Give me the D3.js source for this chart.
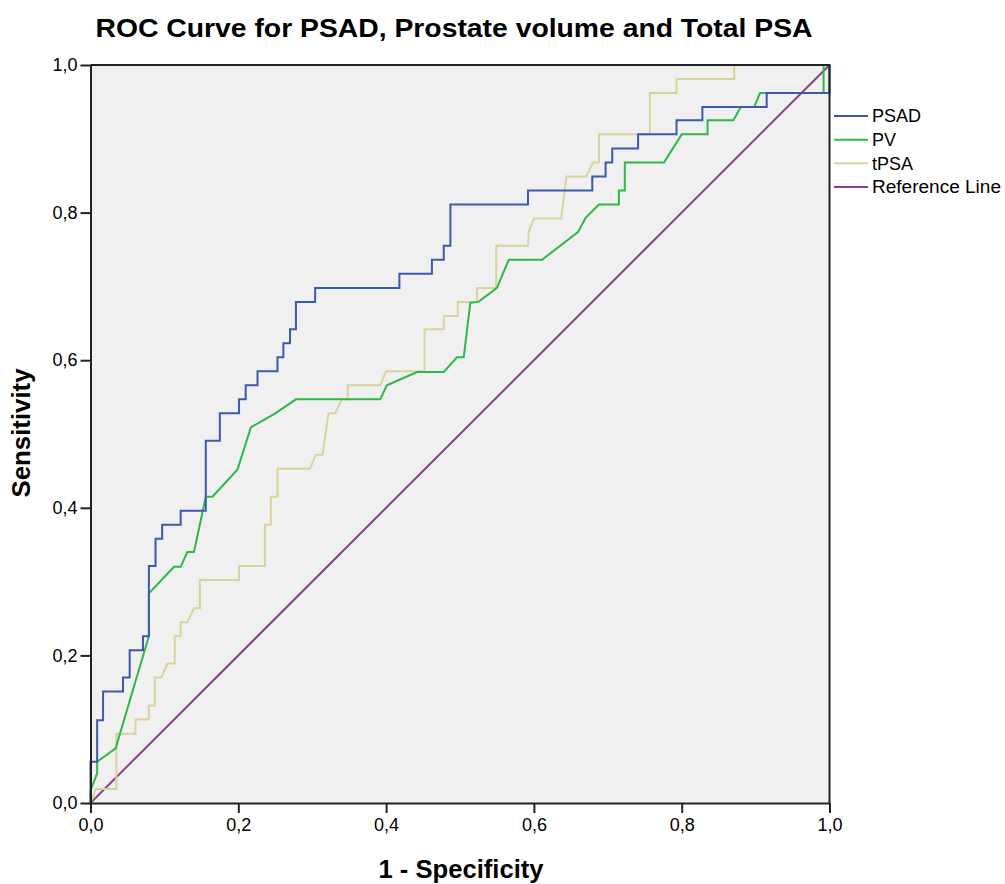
<!DOCTYPE html>
<html>
<head>
<meta charset="utf-8">
<script src="https://cdn.jsdelivr.net/npm/d3@7"></script>
<style>
  html, body { margin: 0; padding: 0; background: #ffffff; }
  svg { display: block; }
  text { font-family: "Liberation Sans", Arial, sans-serif; fill: #000; }
</style>
</head>
<body>
<svg id="chart" width="1005" height="884"></svg>
<script>
// ---- Data ----
const titleText = "ROC Curve for PSAD, Prostate volume and Total PSA";
const xTitle = "1 - Specificity";
const yTitle = "Sensitivity";
const tickValues = [0, 0.2, 0.4, 0.6, 0.8, 1.0];
const tickLabels = ["0,0", "0,2", "0,4", "0,6", "0,8", "1,0"];
const seriesNames = ["PSAD", "PV", "tPSA", "Reference Line"];
const seriesColors = ["#3e58ac", "#2eb848", "#d8d39c", "#8a3c8c"];

const psadX = [0,0,0.009,0.009,0.017,0.017,0.044,0.044,0.053,0.053,0.071,0.071,0.079,0.079,0.088,0.088,0.097,0.097,0.122,0.122,0.156,0.156,0.175,0.175,0.201,0.201,0.210,0.210,0.226,0.226,0.253,0.253,0.261,0.261,0.270,0.270,0.278,0.278,0.304,0.304,0.418,0.418,0.462,0.462,0.478,0.478,0.487,0.487,0.592,0.592,0.679,0.679,0.697,0.697,0.706,0.706,0.741,0.741,0.793,0.793,0.828,0.828,0.915,0.915,1,1];
const psadY = [0,0.056,0.056,0.112,0.112,0.151,0.151,0.170,0.170,0.207,0.207,0.226,0.226,0.321,0.321,0.358,0.358,0.377,0.377,0.396,0.396,0.491,0.491,0.528,0.528,0.547,0.547,0.566,0.566,0.585,0.585,0.604,0.604,0.623,0.623,0.642,0.642,0.679,0.679,0.698,0.698,0.717,0.717,0.736,0.736,0.755,0.755,0.811,0.811,0.830,0.830,0.849,0.849,0.868,0.868,0.887,0.887,0.906,0.906,0.925,0.925,0.943,0.943,0.962,0.962,1];

const pvX = [0,0,0.009,0.009,0.034,0.079,0.079,0.113,0.122,0.131,0.140,0.156,0.165,0.199,0.217,0.250,0.278,0.392,0.401,0.442,0.478,0.496,0.505,0.514,0.525,0.550,0.566,0.611,0.660,0.670,0.688,0.715,0.715,0.723,0.723,0.776,0.800,0.835,0.835,0.870,0.880,0.898,0.906,0.992,0.992,1];
const pvY = [0,0.017,0.040,0.056,0.074,0.226,0.284,0.320,0.320,0.340,0.340,0.415,0.415,0.452,0.509,0.528,0.547,0.547,0.566,0.584,0.584,0.604,0.604,0.678,0.679,0.698,0.736,0.736,0.774,0.793,0.811,0.811,0.830,0.830,0.868,0.868,0.906,0.906,0.925,0.925,0.943,0.943,0.962,0.962,1,1];

const tpsaX = [0,0.007,0.035,0.035,0.061,0.061,0.079,0.079,0.087,0.087,0.096,0.104,0.114,0.114,0.122,0.122,0.131,0.140,0.148,0.148,0.201,0.201,0.236,0.236,0.244,0.244,0.253,0.253,0.297,0.305,0.314,0.322,0.331,0.340,0.348,0.348,0.392,0.400,0.452,0.452,0.478,0.478,0.497,0.497,0.523,0.523,0.549,0.549,0.592,0.593,0.600,0.637,0.644,0.671,0.680,0.688,0.688,0.757,0.757,0.793,0.793,0.871,0.871,1];
const tpsaY = [0,0.019,0.019,0.094,0.094,0.113,0.113,0.132,0.132,0.170,0.170,0.189,0.189,0.226,0.226,0.245,0.245,0.264,0.264,0.302,0.302,0.321,0.321,0.377,0.377,0.415,0.415,0.453,0.453,0.472,0.472,0.528,0.528,0.547,0.547,0.566,0.566,0.585,0.585,0.642,0.642,0.660,0.660,0.679,0.679,0.698,0.698,0.755,0.755,0.774,0.792,0.792,0.849,0.849,0.868,0.868,0.906,0.906,0.962,0.962,0.981,0.981,1,1];

const refX = [0, 1];
const refY = [0, 1];

// ---- Drawing ----
const svg = d3.select("#chart");
const pLeft = 90.5, pRight = 829.5, pTop = 65, pBottom = 803;
const x = d3.scaleLinear().domain([0, 1]).range([pLeft, pRight]);
const y = d3.scaleLinear().domain([0, 1]).range([pBottom, pTop]);

svg.append("rect").attr("width", 1005).attr("height", 884).attr("fill", "#ffffff");

// plot background
svg.append("rect")
  .attr("x", pLeft).attr("y", pTop)
  .attr("width", pRight - pLeft).attr("height", pBottom - pTop)
  .attr("fill", "#f0f0f0");

const line = d3.line().x(d => x(d[0])).y(d => y(d[1]));
const zip = (xs, ys) => xs.map((v, i) => [v, ys[i]]);
const series = [
  zip(psadX, psadY),
  zip(pvX, pvY),
  zip(tpsaX, tpsaY),
  zip(refX, refY)
];
// draw order: reference, tPSA, PV, PSAD
[3, 2, 1, 0].forEach(i => {
  svg.append("path")
    .datum(series[i])
    .attr("d", line)
    .attr("fill", "none")
    .attr("stroke", seriesColors[i])
    .attr("stroke-width", 2)
    .attr("stroke-linejoin", "miter");
});

// frame (top and right)
svg.append("path")
  .attr("d", `M${pLeft},${pTop}H${pRight}V${pBottom}`)
  .attr("fill", "none").attr("stroke", "#222").attr("stroke-width", 2);

// axes
const xAxis = d3.axisBottom(x).tickValues(tickValues)
  .tickFormat((d, i) => tickLabels[i]).tickSize(10).tickSizeOuter(0).tickPadding(5);
const yAxis = d3.axisLeft(y).tickValues(tickValues)
  .tickFormat((d, i) => tickLabels[i]).tickSize(10).tickSizeOuter(0).tickPadding(3);

const gx = svg.append("g").attr("transform", `translate(0,${pBottom})`).call(xAxis);
const gy = svg.append("g").attr("transform", `translate(${pLeft},0)`).call(yAxis);
[gx, gy].forEach(g => {
  g.select(".domain").attr("stroke", "#222").attr("stroke-width", 2);
  g.selectAll(".tick line").attr("stroke", "#222").attr("stroke-width", 2);
  g.selectAll(".tick text")
    .attr("font-family", "'Liberation Sans', Arial, sans-serif")
    .attr("font-size", 18).attr("fill", "#111");
});

// titles
svg.append("text")
  .attr("x", 454).attr("y", 37)
  .attr("text-anchor", "middle")
  .attr("font-size", 25).attr("font-weight", "bold")
  .attr("textLength", 717).attr("lengthAdjust", "spacingAndGlyphs")
  .text(titleText);

svg.append("text")
  .attr("x", 461).attr("y", 878)
  .attr("text-anchor", "middle")
  .attr("font-size", 25).attr("font-weight", "bold")
  .attr("textLength", 165).attr("lengthAdjust", "spacingAndGlyphs")
  .text(xTitle);

svg.append("text")
  .attr("transform", "translate(30,433) rotate(-90)")
  .attr("text-anchor", "middle")
  .attr("font-size", 25).attr("font-weight", "bold")
  .attr("textLength", 129).attr("lengthAdjust", "spacingAndGlyphs")
  .text(yTitle);

// legend
const legY = d3.scalePoint().domain(seriesNames).range([116, 187]);
const leg = svg.append("g");
seriesNames.forEach((name, i) => {
  leg.append("line")
    .attr("x1", 834).attr("x2", 868)
    .attr("y1", legY(name)).attr("y2", legY(name))
    .attr("stroke", seriesColors[i]).attr("stroke-width", 2);
  const t = leg.append("text")
    .attr("x", 872).attr("y", legY(name))
    .attr("dy", "0.36em")
    .attr("font-size", 18)
    .text(name);
  if (name === "Reference Line") t.attr("textLength", 129).attr("lengthAdjust", "spacingAndGlyphs");
});
</script>
</body>
</html>
